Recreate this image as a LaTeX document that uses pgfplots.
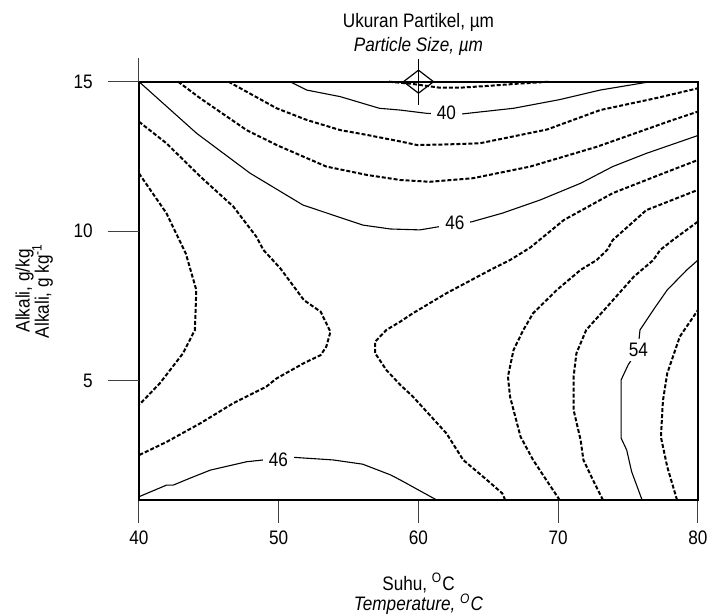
\documentclass[border=0pt]{standalone}
\usepackage{fontspec}
\setmainfont{Liberation Sans}[FakeStretch=0.88]
\usepackage{pgfplots}
\pgfplotsset{compat=1.18}
\begin{document}
\fontsize{9.75}{11.7}\selectfont
\begin{tikzpicture}
\pgfplotsset{
  solidc/.style={black, line width=0.55pt, no marks},
  dashc/.style={black, line width=1pt, dash pattern=on 2pt off 1pt, no marks},
}
\begin{axis}[
  name=ax,
  scale only axis,
  width=279.5pt, height=209.15pt,
  xmin=40, xmax=80, ymin=1, ymax=15,
  xtick={40,50,60,70,80}, ytick={5,10,15},
  axis line style={line width=1pt},
  tick align=outside,
  xtick pos=bottom, ytick pos=left,
  major tick length=11.5pt,
  xtick style={line width=0.5pt, black!75},
  ytick style={draw=none},
  /pgf/number format/assume math mode=true,
  xticklabel style={anchor=north, inner sep=0pt, yshift=-3.5pt},
  yticklabel style={anchor=east, inner sep=0pt, xshift=-11.5pt},
  title={Ukuran Partikel, µm\\\textit{Particle Size, µm}},
  title style={at={(0.5,1)}, anchor=south, inner sep=0pt, yshift=7pt, align=center},
  xlabel={Suhu, \textsuperscript{O}C\\[-1.5pt]\textit{Temperature, \textsuperscript{O}C}},
  xlabel style={at={([yshift=-36.5pt]axis description cs:0.5,0)}, anchor=north, inner sep=0pt, align=center},
  ylabel={Alkali, g/kg\\[-2pt]Alkali, g kg\textsuperscript{-1}},
  ylabel style={at={([xshift=-62pt]axis description cs:0,0.5)}, anchor=north, inner sep=0pt, align=center},
  clip=false,
]
% level 38
\addplot[dashc] coordinates {(57.9,15) (59.5,14.93) (61.5,14.8) (63,14.8) (65,14.86) (67,14.93) (69.4,15)};
% level 40
\addplot[solidc] coordinates {(50.8,15) (52.0,14.72) (54.4,14.5) (57.2,14.11) (58.7,14.05) (60.6,13.94) (62.0,13.92) (63.1,13.92) (66.8,14.11) (70.1,14.4) (73.0,14.72) (76.6,15)};
% level 42
\addplot[dashc] coordinates {(46.4,15) (49.85,14.11) (52.0,13.72) (54.4,13.38) (56.3,13.22) (58.7,13.0) (59.9,12.88) (62,12.9) (64.4,12.94) (69.2,13.4) (73.0,14.05) (77,14.45) (80,14.78)};
% level 44
\addplot[dashc] coordinates {(42.8,15) (44.4,14.44) (47.7,13.38) (49.85,12.88) (53.4,12.16) (56.3,11.88) (58.7,11.71) (60.8,11.65) (63.9,11.77) (68.0,12.16) (72.75,12.82) (78.2,13.72) (80,14.0)};
% level 46 top
\addplot[solidc] coordinates {(40,15) (44.13,13.27) (47.94,11.94) (51.74,10.87) (56.03,10.20) (58,10.07) (60.1,10.04) (61.5,10.15) (62.6,10.22) (63.8,10.31) (66.0,10.6) (68.7,11.04) (71.6,11.6) (73.9,12.16) (76.3,12.6) (80,13.2)};
% level 48 left branch
\addplot[dashc] coordinates {(40,13.66) (41.96,12.94) (44.4,11.82) (46.75,10.82) (48.4,9.81) (48.9,9.37) (50.1,8.76) (51.8,7.69) (53.0,7.30) (53.7,6.63) (53.4,6.13) (53.0,5.85) (51.8,5.58) (49.85,5.07) (49.1,4.79) (46.75,4.24) (44.4,3.57) (42.0,2.95) (40,2.5)};
% level 48 right branch
\addplot[dashc] coordinates {(66.2,1) (66.0,1.22) (64.9,1.67) (63.2,2.34) (62.0,3.23) (59.6,4.46) (58.7,4.85) (57.7,5.35) (56.9,5.91) (56.9,6.30) (57.7,6.69) (58.7,6.97) (59.6,7.25) (62.0,7.92) (65.1,8.69) (66.55,9.03) (68.0,9.45) (70.4,10.37) (73.9,11.27) (77.5,11.93) (80,12.38)};
% level 50 left
\addplot[dashc] coordinates {(40,11.93) (41.96,10.6) (43.35,9.25) (44.1,8.03) (44.0,6.69) (43.15,5.91) (41.5,4.91) (40,4.18)};
% level 50 right
\addplot[dashc] coordinates {(70.1,1) (69.3,1.56) (68.2,2.34) (67.3,3.12) (66.55,4.46) (66.4,5.13) (66.8,6.02) (67.5,6.69) (68.2,7.25) (69.9,8.03) (71.6,8.7) (72.75,9.03) (73.5,9.37) (73.9,9.7) (76.3,10.7) (80,11.38)};
% level 52
\addplot[dashc] coordinates {(73.2,1) (72.6,1.56) (71.8,2.34) (71.6,3.01) (71.1,4.01) (71.1,5.13) (71.3,5.91) (72.0,6.69) (73.5,7.47) (75.4,8.47) (76.8,9.03) (77.3,9.37) (78.2,9.7) (80,10.32)};
% level 54
\addplot[solidc] coordinates {(76.0,1) (75.25,1.95) (74.9,2.67) (74.5,3.07) (74.5,4.35) (74.5,5.02) (75.0,5.52) (75.7,6.02) (75.85,6.69) (76.8,7.36) (77.8,8.03) (79.2,8.70) (80,9.03)};
% level 56
\addplot[dashc] coordinates {(78.5,1) (77.8,2.11) (77.35,3.1) (77.45,4.01) (77.5,4.35) (77.8,5.24) (78.7,6.47) (80,7.36)};
% level 46 bottom
\addplot[solidc] coordinates {(40,1.11) (41.98,1.5) (42.46,1.5) (43.65,1.73) (45.1,2.0) (47.7,2.28) (48.9,2.34) (50.0,2.4) (51.0,2.43) (53.9,2.34) (56.0,2.2) (58.0,1.84) (58.7,1.67) (61.3,1)};
% contour labels
\node[fill=white, inner xsep=3pt, inner ysep=0.5pt] at (axis cs:62.0,13.96) {40};
\node[fill=white, inner xsep=3pt, inner ysep=0.5pt] at (axis cs:62.6,10.29) {46};
\node[fill=white, inner xsep=3pt, inner ysep=0.5pt] at (axis cs:49.97,2.36) {46};
\node[fill=white, inner xsep=1pt, inner ysep=2pt] at (axis cs:75.73,6.02) {54};
% optimum marker
\addplot[only marks, mark=|, mark size=11.5pt, mark options={line width=0.6pt, black}] coordinates {(60,15)};
\addplot[only marks, mark=diamond, mark size=5.75pt, mark options={xscale=1.74, line width=0.6pt, black, fill=none}] coordinates {(60,15)};
% y ticks and top extension of the left axis line
\draw[black!75, line width=0.5pt] (axis cs:40,15) -- ++(0pt,11.85pt);
\draw[black!75, line width=0.5pt] (axis cs:40,5) -- ++(-15.5pt,0pt);
\draw[black!75, line width=0.5pt] (axis cs:40,10) -- ++(-15.5pt,0pt);
\draw[black!75, line width=0.5pt] (axis cs:40,15) -- ++(-15.5pt,0pt);
\end{axis}
\pgfresetboundingbox
\path[use as bounding box] ([shift={(-69.5pt,-57.5pt)}]ax.south west) rectangle ([shift={(4.5pt,40.85pt)}]ax.north east);
\end{tikzpicture}
\end{document}
